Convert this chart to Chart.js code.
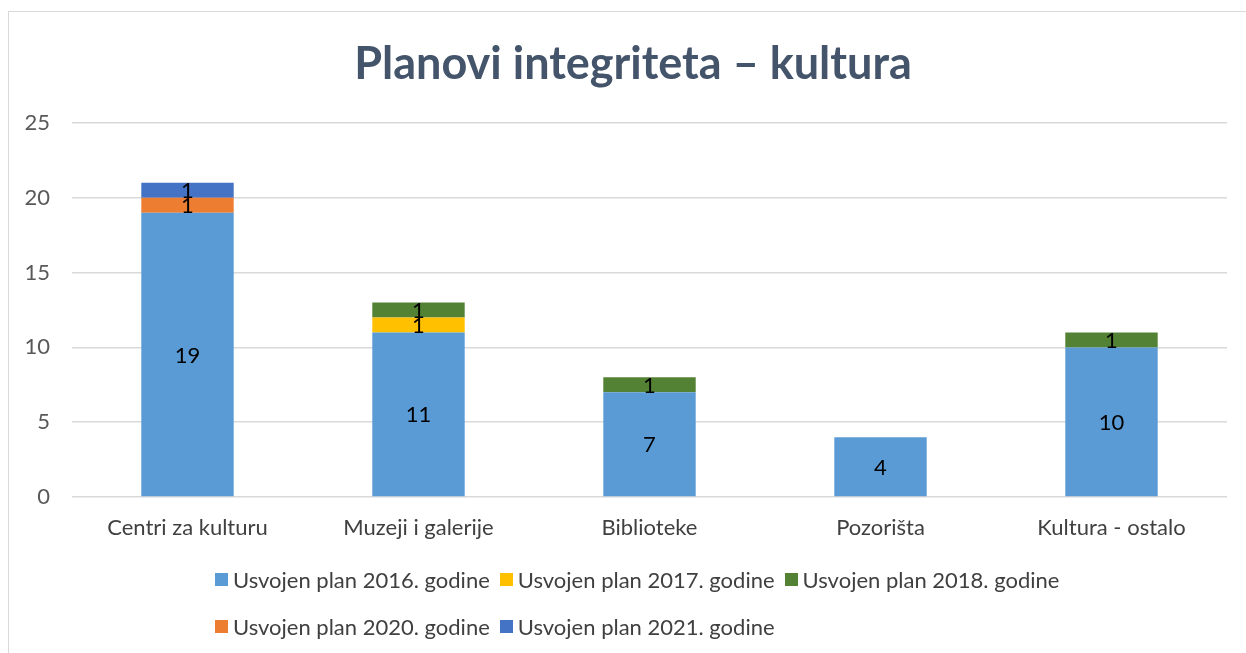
<!DOCTYPE html>
<html>
<head>
<meta charset="utf-8">
<script src="https://cdn.jsdelivr.net/npm/chart.js@4"></script>
<style>
  html, body { margin: 0; padding: 0; background: #fff; }
  #wrap { position: relative; width: 1246px; height: 653px; overflow: hidden; }
  #frame { position: absolute; left: 8px; top: 11px; width: 1300px; height: 700px; border: 1px solid #d9d9d9; box-sizing: border-box; }
  #chart { position: absolute; left: 0; top: 0; }
  #title { position: absolute; left: 0; top: 35px; width: 1266px; text-align: center; line-height: 54px;
           font-family: Lato, "Open Sans", sans-serif; font-size: 45px; font-weight: bold; color: #44546a; }
  #legend { position: absolute; left: 215px; top: 556px; width: 900px; display: flex; flex-wrap: wrap;
            font-family: Lato, "Open Sans", sans-serif; font-size: 22px; color: #404040; }
  .item { display: flex; align-items: center; height: 47px; margin-right: 10px; }
  .box { width: 13px; height: 13px; margin-right: 5px; }
</style>
</head>
<body>
<div id="wrap">
  <div id="frame"></div>
  <canvas id="chart" width="1246" height="653"></canvas>
  <div id="title">Planovi integriteta – kultura</div>
  <div id="legend"></div>
</div>
<script>
const categories = ["Centri za kulturu", "Muzeji i galerije", "Biblioteke", "Pozorišta", "Kultura - ostalo"];
const plan2016 = [19, 11, 7, 4, 10];
const plan2017 = [0, 1, 0, 0, 0];
const plan2018 = [0, 1, 1, 0, 1];
const plan2020 = [1, 0, 0, 0, 0];
const plan2021 = [1, 0, 0, 0, 0];
const yTicks = [0, 5, 10, 15, 20, 25];

const fontFamily = "Lato, 'Open Sans', sans-serif";

function series(label, data, color) {
  return { label: label, data: data, backgroundColor: color, barPercentage: 0.4, categoryPercentage: 1 };
}

// writes each non-zero value in the middle of its bar segment
const segmentLabels = {
  id: "segmentLabels",
  afterDatasetsDraw(chart) {
    const ctx = chart.ctx;
    ctx.save();
    ctx.font = "22px " + fontFamily;
    ctx.fillStyle = "#000";
    ctx.textAlign = "center";
    ctx.textBaseline = "middle";
    chart.data.datasets.forEach((ds, i) => {
      chart.getDatasetMeta(i).data.forEach((bar, j) => {
        const v = ds.data[j];
        if (!v) return;
        ctx.fillText(String(v), bar.x, (bar.y + bar.base) / 2 + 1);
      });
    });
    ctx.restore();
  }
};

const chart = new Chart(document.getElementById("chart"), {
  type: "bar",
  data: {
    labels: categories,
    datasets: [
      series("Usvojen plan 2016. godine", plan2016, "#5b9bd5"),
      series("Usvojen plan 2017. godine", plan2017, "#ffc000"),
      series("Usvojen plan 2018. godine", plan2018, "#548235"),
      series("Usvojen plan 2020. godine", plan2020, "#ed7d31"),
      series("Usvojen plan 2021. godine", plan2021, "#4472c4"),
    ],
  },
  options: {
    responsive: false,
    animation: false,
    layout: { padding: { left: 10, right: 19, top: 123, bottom: 106 } },
    plugins: {
      legend: { display: false },
      tooltip: { enabled: false },
    },
    scales: {
      x: {
        stacked: true,
        afterFit(scale) { scale.height = 50; },
        grid: { display: false, drawTicks: false },
        border: { display: false },
        ticks: { color: "#404040", font: { family: fontFamily, size: 22 }, padding: 18 },
      },
      y: {
        stacked: true,
        min: 0,
        max: 25,
        afterFit(scale) { scale.width = 62; },
        afterBuildTicks(scale) { scale.ticks = yTicks.map(v => ({ value: v })); },
        grid: { color: "#d9d9d9", lineWidth: 1.5, drawTicks: false },
        border: { display: false },
        ticks: { color: "#595959", font: { family: fontFamily, size: 22 }, padding: 22 },
      },
    },
  },
  plugins: [segmentLabels],
});

// legend built from the datasets, three entries on the first line
const legend = document.getElementById("legend");
chart.data.datasets.forEach(ds => {
  const item = document.createElement("div");
  item.className = "item";
  const box = document.createElement("span");
  box.className = "box";
  box.style.background = ds.backgroundColor;
  item.appendChild(box);
  item.appendChild(document.createTextNode(ds.label));
  legend.appendChild(item);
});
</script>
</body>
</html>
